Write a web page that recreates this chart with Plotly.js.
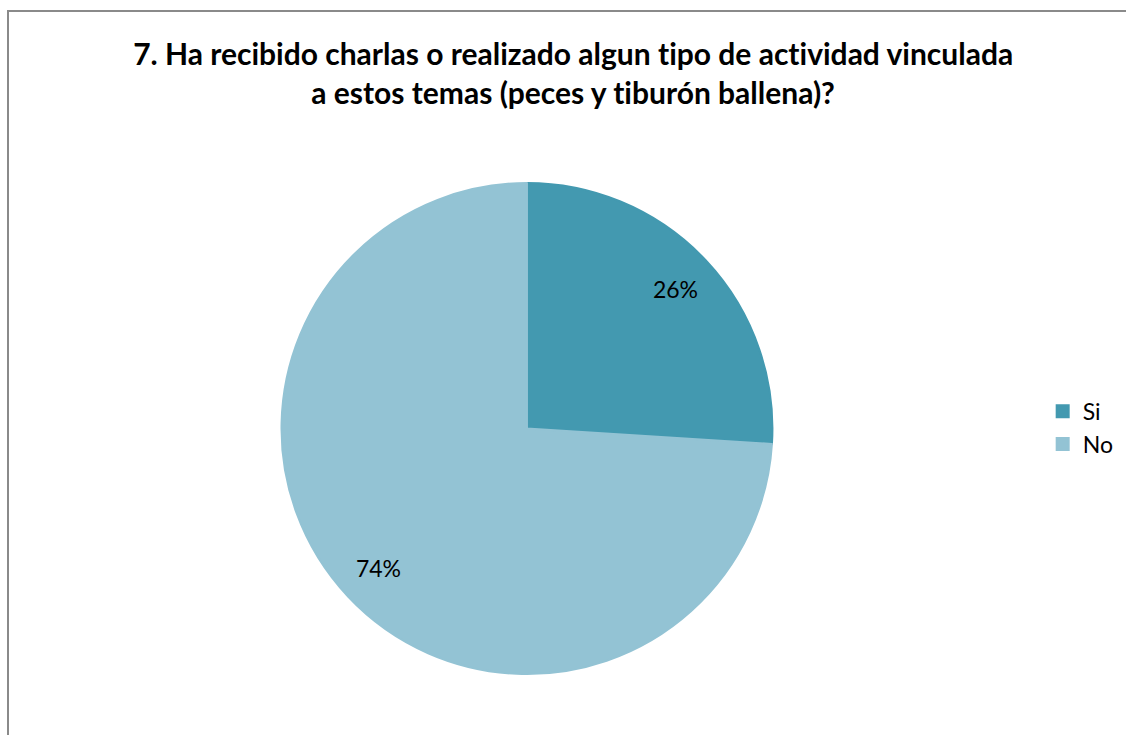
<!DOCTYPE html>
<html>
<head>
<meta charset="utf-8">
<script src="https://cdn.plot.ly/plotly-3.0.1.min.js"></script>
<style>html,body{margin:0;padding:0;background:#fff;}#chart{width:1126px;height:735px;}
#chart text{font-variant-ligatures:none;font-feature-settings:"liga" 0;}</style>
</head>
<body>
<div id="chart"></div>
<script>
const titleText = '7. Ha recibido charlas o realizado algun tipo de actividad vinculada<br>a estos temas (peces y tiburón ballena)?';
const categories = ['Si', 'No'];
const values = [26, 74];
const colors = ['#4399B0', '#93C3D4'];

const domain = {x: [0.25, 0.686], y: [0.083, 0.751]};

const pieTrace = {
  type: 'pie',
  labels: categories,
  values: values,
  sort: false,
  direction: 'clockwise',
  rotation: 0,
  marker: {colors: colors, line: {width: 2, color: colors}},
  textinfo: 'none',
  domain: domain,
  hoverinfo: 'label+percent'
};

const labelTrace = {
  type: 'pie',
  labels: categories,
  values: values,
  sort: false,
  direction: 'clockwise',
  rotation: 0,
  hole: 0.66,
  marker: {colors: ['rgba(0,0,0,0)', 'rgba(0,0,0,0)'], line: {width: 0}},
  textinfo: 'percent',
  texttemplate: '%{percent:.0%}',
  textposition: 'inside',
  insidetextorientation: 'horizontal',
  textfont: {family: 'Lato, "Open Sans", sans-serif', size: 23, color: '#000'},
  showlegend: false,
  domain: domain,
  hoverinfo: 'skip'
};

const layout = {
  width: 1126,
  height: 735,
  margin: {l: 0, r: 0, t: 0, b: 0},
  paper_bgcolor: '#fff',
  title: {
    text: titleText,
    x: 0.509,
    xanchor: 'center',
    y: 0.912,
    yref: 'container',
    yanchor: 'middle',
    font: {family: 'Lato, "Open Sans", sans-serif', size: 30, color: '#000', weight: 'bold'}
  },
  legend: {
    x: 0.926,
    xanchor: 'left',
    y: 0.418,
    yanchor: 'middle',
    font: {family: 'Lato, "Open Sans", sans-serif', size: 23, color: '#000'},
    bgcolor: 'rgba(0,0,0,0)'
  },
  shapes: [{
    type: 'rect', xref: 'paper', yref: 'paper',
    x0: 8/1126, x1: 1.02, y0: -0.02, y1: 1 - 11/735,
    line: {color: '#8a8a8a', width: 2}, layer: 'below'
  }]
};

Plotly.newPlot('chart', [pieTrace, labelTrace], layout, {displayModeBar: false, staticPlot: true});
</script>
</body>
</html>
